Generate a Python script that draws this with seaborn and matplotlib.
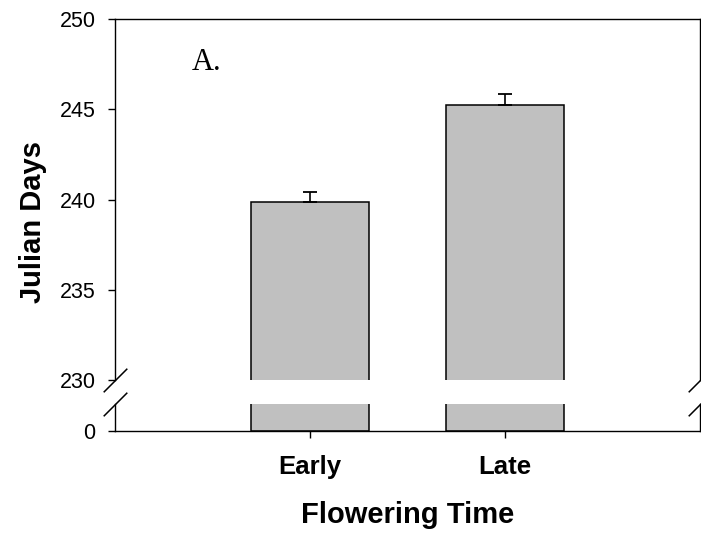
import matplotlib
matplotlib.use("Agg")
import matplotlib.pyplot as plt
import seaborn as sns
import pandas as pd

categories = ["Early", "Late"]
means = [239.85, 245.26]
errors = [0.55, 0.56]
upper_ticks = [230, 235, 240, 245, 250]
lower_ticks = [0]

sns.set_style("ticks")
plt.rcParams['font.family'] = ['Liberation Sans', 'DejaVu Sans']
plt.rcParams['text.color'] = 'black'
plt.rcParams['axes.labelcolor'] = 'black'

W, H = 701, 535
fig = plt.figure(figsize=(W / 100, H / 100), dpi=100)
L, R = 115, 700
ax_top = fig.add_axes([L / W, 1 - 380 / H, (R - L) / W, (380 - 19) / H])
ax_bot = fig.add_axes([L / W, 1 - 431 / H, (R - L) / W, (431 - 404) / H])

df = pd.DataFrame({"Flowering Time": categories, "Julian Days": means})
for ax in (ax_top, ax_bot):
    sns.barplot(data=df, x="Flowering Time", y="Julian Days", ax=ax,
                color="#c0c0c0", edgecolor="black", linewidth=1.1,
                width=0.61, saturation=1)
    ax.set_xlim(-1, 2)
    ax.set_ylabel("")
    for s in ax.spines.values():
        s.set_linewidth(1.0)
        s.set_color("black")
    ax.tick_params(axis="y", direction="out", length=5, width=1.0, pad=9,
                   labelsize=15.5, colors="black", right=False)

ax_top.errorbar(x=list(range(len(categories))), y=means,
                yerr=[[0] * len(errors), errors], fmt="none", ecolor="black",
                elinewidth=1.2, capsize=4.7, capthick=1.3)

ax_top.set_ylim(230, 250)
ax_top.set_yticks(upper_ticks)
ax_top.spines["bottom"].set_visible(False)
ax_top.tick_params(axis="x", bottom=False, labelbottom=False)
ax_top.set_xlabel("")

ax_bot.set_ylim(0, 10)
ax_bot.set_yticks(lower_ticks)
ax_bot.spines["top"].set_visible(False)
ax_bot.tick_params(axis="x", direction="out", length=5, width=1.0, pad=12,
                   labelsize=18.5, colors="black")
for lab in ax_bot.get_xticklabels():
    lab.set_fontweight("bold")
ax_bot.set_xlabel("Flowering Time", fontsize=21, fontweight="bold",
                  labelpad=16, color="black")

fig.text(33 / W, 1 - 222 / H, "Julian Days", rotation=90, fontsize=21,
         fontweight="bold", ha="center", va="center", color="black")

ax_top.text(0.157, 0.859, "A.", transform=ax_top.transAxes,
            family=["Liberation Serif"], fontsize=22, ha="center",
            va="baseline", color="black")

# break marks
kw = dict(marker=[(-1, -1), (1, 1)], markersize=17, linestyle="none",
          color="k", mec="k", mew=1.1, clip_on=False)
ax_top.plot([0, 1], [0, 0], transform=ax_top.transAxes, **kw)
ax_bot.plot([0, 1], [1, 1], transform=ax_bot.transAxes, **kw)

fig.savefig("out.png", dpi=100)
